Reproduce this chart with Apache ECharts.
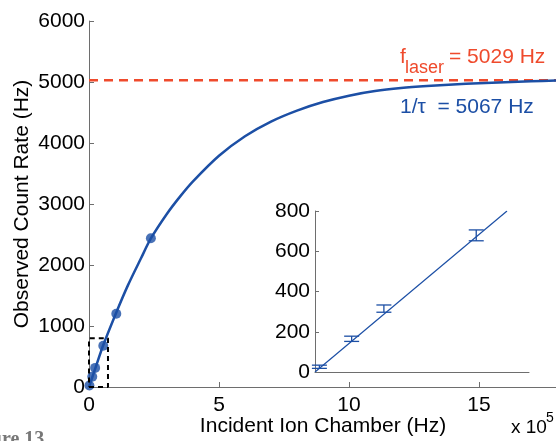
<!DOCTYPE html>
<html>
<head>
<meta charset="utf-8">
<script src="https://cdn.jsdelivr.net/npm/echarts@6/dist/echarts.min.js"></script>
<style>
  html, body { margin: 0; padding: 0; background: #fff; }
  #chart { width: 556px; height: 441px; }
</style>
</head>
<body>
<div id="chart"></div>
<script>
// Measured count rate vs incident ion chamber rate (x in units of 1e5 Hz)
const pointX = [0.015, 0.125, 0.235, 0.55, 1.05, 2.38];
const pointY = [26, 167, 313, 677, 1201, 2438];

// Error bars for the low-rate points shown in the zoomed panel
const errLowX = [0.015, 0.125, 0.235, 0.55];
const errLowY = [26, 165, 315, 679];
const errSize = [8, 13, 18, 27];

// Dead-time fit curve
const curveX = [0, 0.125, 0.235, 0.55, 1.05, 1.5, 2.0, 2.38, 3.0, 3.5, 4.0, 5.0, 6.0, 7.0, 8.0, 9.0, 10.0, 11.0, 12.0, 13.0, 14.0, 15.0, 16.0, 17.0, 18.0];
const curveY = [0, 158, 297, 688, 1222, 1670, 2110, 2435, 2841, 3121, 3371, 3791, 4111, 4351, 4531, 4671, 4776, 4851, 4901, 4935, 4960, 4980, 4997, 5012, 5025];

// Linear fit in the zoomed panel
const fitX = [0, 0.655];
const fitY = [0, 800];

// Laser repetition frequency
const laserFreq = 5029;
const laserX = [0, 18];

// Region enlarged in the inset
const boxX = [0, 0.73, 0.73, 0, 0];
const boxY = [0, 0, 800, 800, 0];

// Axis ticks
const mainXTicks = [0, 5, 10, 15];
const mainYMax = 6000;
const insetYMax = 800;

const BLUE = '#1c4fa5';
const RED = '#ef4a2c';
const AXIS = '#6e6e6e';
const FONT = '"Liberation Sans", Arial, Helvetica, sans-serif';

const zip = (xs, ys) => xs.map((x, i) => [x, ys[i]]);

const chart = echarts.init(document.getElementById('chart'), null, { renderer: 'canvas' });

chart.setOption({
  animation: false,
  backgroundColor: '#fff',
  textStyle: { fontFamily: FONT },
  grid: [
    { left: 89, top: 21, width: 468, height: 366, containLabel: false, outerBoundsMode: 'none' },
    { left: 315, top: 211, width: 214, height: 161, containLabel: false, outerBoundsMode: 'none' }
  ],
  xAxis: [
    {
      type: 'value', gridIndex: 0, min: 0, max: 18, interval: 5,
      axisLine: { lineStyle: { color: AXIS, width: 1 } },
      axisTick: { inside: true, length: 5, lineStyle: { color: AXIS } },
      splitLine: { show: false },
      axisLabel: {
        color: '#000', fontSize: 21, fontFamily: FONT, margin: 8,
        formatter: v => (mainXTicks.indexOf(v) >= 0 ? String(v) : '')
      },
      name: 'Incident Ion Chamber (Hz)',
      nameLocation: 'middle', nameGap: 29, nameMoveOverlap: false,
      nameTextStyle: { color: '#000', fontSize: 21, fontFamily: FONT }
    },
    {
      type: 'value', gridIndex: 1, min: 0, max: 0.73,
      axisLine: { lineStyle: { color: AXIS, width: 1 } },
      axisTick: { show: false },
      axisLabel: { show: false },
      splitLine: { show: false }
    }
  ],
  yAxis: [
    {
      type: 'value', gridIndex: 0, min: 0, max: mainYMax, interval: 1000,
      axisLine: { show: true, lineStyle: { color: AXIS, width: 1 } },
      axisTick: { show: true, inside: true, length: 5, lineStyle: { color: AXIS } },
      splitLine: { show: false },
      axisLabel: { color: '#000', fontSize: 21, fontFamily: FONT, margin: 4, formatter: v => String(v) },
      name: 'Observed Count Rate (Hz)',
      nameLocation: 'middle', nameGap: 56, nameRotate: 90, nameMoveOverlap: false,
      nameTextStyle: { color: '#000', fontSize: 21, fontFamily: FONT }
    },
    {
      type: 'value', gridIndex: 1, min: 0, max: insetYMax, interval: 200,
      axisLine: { show: true, lineStyle: { color: AXIS, width: 1 } },
      axisTick: { show: true, inside: true, length: 4, lineStyle: { color: AXIS } },
      splitLine: { show: false },
      axisLabel: { color: '#000', fontSize: 21, fontFamily: FONT, margin: 5, formatter: v => String(v) }
    }
  ],
  series: [
    {
      name: 'laser', type: 'line', xAxisIndex: 0, yAxisIndex: 0,
      data: laserX.map(x => [x, laserFreq]),
      symbol: 'none', silent: true,
      lineStyle: { color: RED, width: 2.5, type: [9, 6] }
    },
    {
      name: 'fit', type: 'line', xAxisIndex: 0, yAxisIndex: 0,
      data: zip(curveX, curveY), smooth: 0.3,
      symbol: 'none', silent: true,
      lineStyle: { color: BLUE, width: 2.5 }
    },
    {
      name: 'measured', type: 'scatter', xAxisIndex: 0, yAxisIndex: 0,
      data: zip(pointX, pointY), symbolSize: 10,
      itemStyle: { color: BLUE }
    },
    {
      name: 'zoom box', type: 'line', xAxisIndex: 0, yAxisIndex: 0,
      data: zip(boxX, boxY), symbol: 'none', silent: true,
      lineStyle: { color: '#000', width: 2, type: [5, 4] }
    },
    {
      name: 'inset fit', type: 'line', xAxisIndex: 1, yAxisIndex: 1,
      data: zip(fitX, fitY), symbol: 'none', silent: true,
      lineStyle: { color: BLUE, width: 1.2 }
    },
    {
      name: 'inset errors', type: 'custom', xAxisIndex: 1, yAxisIndex: 1,
      data: errLowX.map((x, i) => [x, errLowY[i], errSize[i]]),
      renderItem: (params, api) => {
        const x = api.value(0), y = api.value(1), e = api.value(2);
        const top = api.coord([x, y + e]);
        const bot = api.coord([x, y - e]);
        const half = 7.5;
        const style = { stroke: BLUE, lineWidth: 1.3 };
        return {
          type: 'group',
          children: [
            { type: 'line', shape: { x1: top[0], y1: top[1], x2: bot[0], y2: bot[1] }, style },
            { type: 'line', shape: { x1: top[0] - half, y1: top[1], x2: top[0] + half, y2: top[1] }, style },
            { type: 'line', shape: { x1: bot[0] - half, y1: bot[1], x2: bot[0] + half, y2: bot[1] }, style }
          ]
        };
      }
    }
  ],
  graphic: [
    { type: 'text', left: 400, top: 47, style: { text: 'f', fill: RED, font: '21px ' + FONT } },
    { type: 'text', left: 405, top: 59, style: { text: 'laser', fill: RED, font: '18px ' + FONT } },
    { type: 'text', left: 449, top: 47, style: { text: '= 5029 Hz', fill: RED, font: '21px ' + FONT } },
    { type: 'text', left: 400, top: 97, style: { text: '1/\u03c4  = 5067 Hz', fill: BLUE, font: '21px ' + FONT } },
    { type: 'text', left: 511, top: 418, style: { text: 'x 10', fill: '#000', font: '19px ' + FONT } },
    { type: 'text', left: 546, top: 411, style: { text: '5', fill: '#000', font: '14px ' + FONT } },
    { type: 'text', left: -37, top: 430, style: { text: 'Figure 13', fill: '#777', font: 'bold 20px "Liberation Serif", serif' } }
  ]
});
</script>
</body>
</html>
